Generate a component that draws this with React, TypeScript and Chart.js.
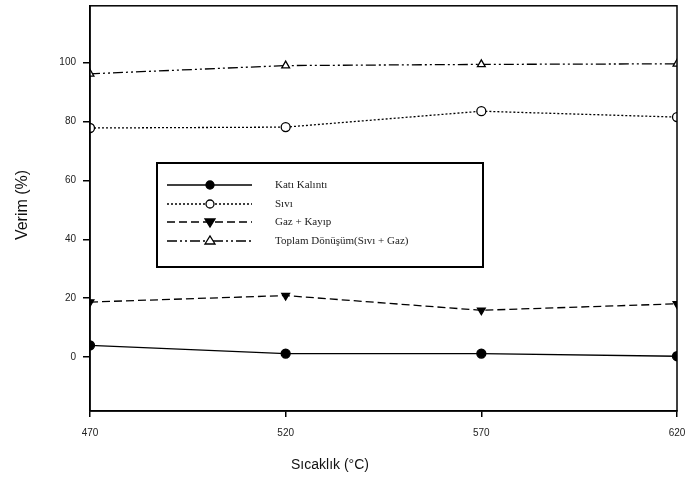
import React, { useEffect, useRef } from "react";
import { Chart, registerables } from "chart.js";

Chart.register(...registerables);

const temperatures = [470, 520, 570, 620];
const katiKalinti = [4.0, 1.2, 1.2, 0.3];
const sivi = [77.8, 78.1, 83.5, 81.5];
const gazKayip = [18.7, 20.9, 15.9, 18.1];
const toplam = [96.2, 99.0, 99.4, 99.6];
const yTicks = [0, 20, 40, 60, 80, 100];
const xTicks = [470, 520, 570, 620];

const seriesNames = ["Katı Kalıntı", "Sıvı", "Gaz + Kayıp", "Toplam Dönüşüm(Sıvı + Gaz)"];
const xTitle = "Sıcaklık (°C)";
const yTitle = "Verim (%)";

const styles = [
  { dash: [] as number[], point: "circle", bg: "#000", rotation: 0 },
  { dash: [2, 2], point: "circle", bg: "#fff", rotation: 0 },
  { dash: [8, 4], point: "triangle", bg: "#000", rotation: 180 },
  { dash: [10, 3, 2, 3, 2, 3], point: "triangle", bg: "#fff", rotation: 0 },
];

export default function App() {
  const ref = useRef<HTMLCanvasElement>(null);
  useEffect(() => {
    document.body.style.margin = "0";
    const all = [katiKalinti, sivi, gazKayip, toplam];
    const frame = {
      id: "frame",
      afterDraw(chart: any) {
        const { ctx, chartArea: a } = chart;
        ctx.save();
        ctx.strokeStyle = "#000";
        ctx.lineWidth = 1.5;
        ctx.setLineDash([]);
        ctx.strokeRect(a.left, a.top, a.right - a.left, a.bottom - a.top);
        // titles
        ctx.fillStyle = "#111";
        ctx.font = "14px 'Liberation Sans Narrow', 'Liberation Sans', sans-serif";
        ctx.textAlign = "center";
        ctx.textBaseline = "middle";
        ctx.fillText(xTitle, 330, 465);
        ctx.save();
        ctx.translate(23, 205);
        ctx.rotate(-Math.PI / 2);
        ctx.font = "16px 'Liberation Sans Narrow', 'Liberation Sans', sans-serif";
        ctx.fillText(yTitle, 0, 0);
        ctx.restore();
        // legend
        ctx.lineWidth = 2;
        ctx.strokeRect(157, 163, 326, 104);
        const rows = [185, 204, 222, 241];
        rows.forEach((y, i) => {
          const s = styles[i];
          ctx.lineWidth = 1.3;
          ctx.strokeStyle = "#000";
          ctx.setLineDash(s.dash);
          ctx.beginPath();
          ctx.moveTo(167, y);
          ctx.lineTo(252, y);
          ctx.stroke();
          ctx.setLineDash([]);
          ctx.fillStyle = s.bg;
          ctx.beginPath();
          const cx = 210;
          if (s.point === "circle") {
            ctx.arc(cx, y, 4, 0, Math.PI * 2);
          } else if (s.rotation === 180) {
            ctx.moveTo(cx - 5, y - 3);
            ctx.lineTo(cx + 5, y - 3);
            ctx.lineTo(cx, y + 5);
            ctx.closePath();
          } else {
            ctx.moveTo(cx - 5, y + 3);
            ctx.lineTo(cx + 5, y + 3);
            ctx.lineTo(cx, y - 5);
            ctx.closePath();
          }
          ctx.fill();
          ctx.stroke();
          ctx.fillStyle = "#222";
          ctx.font = "11px 'Liberation Serif', serif";
          ctx.textAlign = "left";
          ctx.fillText(seriesNames[i], 275, y);
        });
        ctx.restore();
      },
    };
    const chart = new Chart(ref.current!, {
      type: "line",
      data: {
        datasets: all.map((vals, i) => ({
          label: seriesNames[i],
          data: temperatures.map((t, j) => ({ x: t, y: vals[j] })),
          borderColor: "#000",
          borderWidth: 1.3,
          borderDash: styles[i].dash,
          pointStyle: styles[i].point as any,
          pointRotation: styles[i].rotation,
          pointRadius: 4.5,
          pointBackgroundColor: styles[i].bg,
          pointBorderColor: "#000",
          pointBorderWidth: 1.3,
          tension: 0,
        })),
      },
      options: {
        animation: false,
        responsive: false,
        layout: { padding: { left: 0, right: 8, top: 4, bottom: 0 } },
        plugins: { legend: { display: false }, tooltip: { enabled: false } },
        scales: {
          x: {
            type: "linear",
            min: 470,
            max: 620,
            afterBuildTicks: (s: any) => {
              s.ticks = xTicks.map((v) => ({ value: v }));
            },
            afterFit: (s: any) => {
              s.height = 486 - 411 - 0;
              s.paddingLeft = 0;
              s.paddingRight = 0;
            },
            grid: { drawOnChartArea: false, drawTicks: true, tickLength: 6, color: "#000", lineWidth: 1.5 },
            border: { display: true, color: "#000", width: 1.5 },
            ticks: { color: "#222", padding: 10, font: { family: "'Liberation Sans', sans-serif", size: 10 }, maxRotation: 0 },
          },
          y: {
            type: "linear",
            min: -18.3,
            max: 119.3,
            afterBuildTicks: (s: any) => {
              s.ticks = yTicks.map((v) => ({ value: v }));
            },
            afterFit: (s: any) => {
              s.width = 90;
              s.paddingTop = 0;
              s.paddingBottom = 0;
            },
            grid: { drawOnChartArea: false, drawTicks: true, tickLength: 7, color: "#000", lineWidth: 1.5 },
            border: { display: true, color: "#000", width: 1.5 },
            ticks: { color: "#222", padding: 7, font: { family: "'Liberation Sans', sans-serif", size: 10 } },
          },
        },
      },
      plugins: [frame],
    });
    return () => chart.destroy();
  }, []);
  return (
    <div style={{ width: 685, height: 486 }}>
      <canvas ref={ref} width={685} height={486} style={{ display: "block" }} />
    </div>
  );
}
